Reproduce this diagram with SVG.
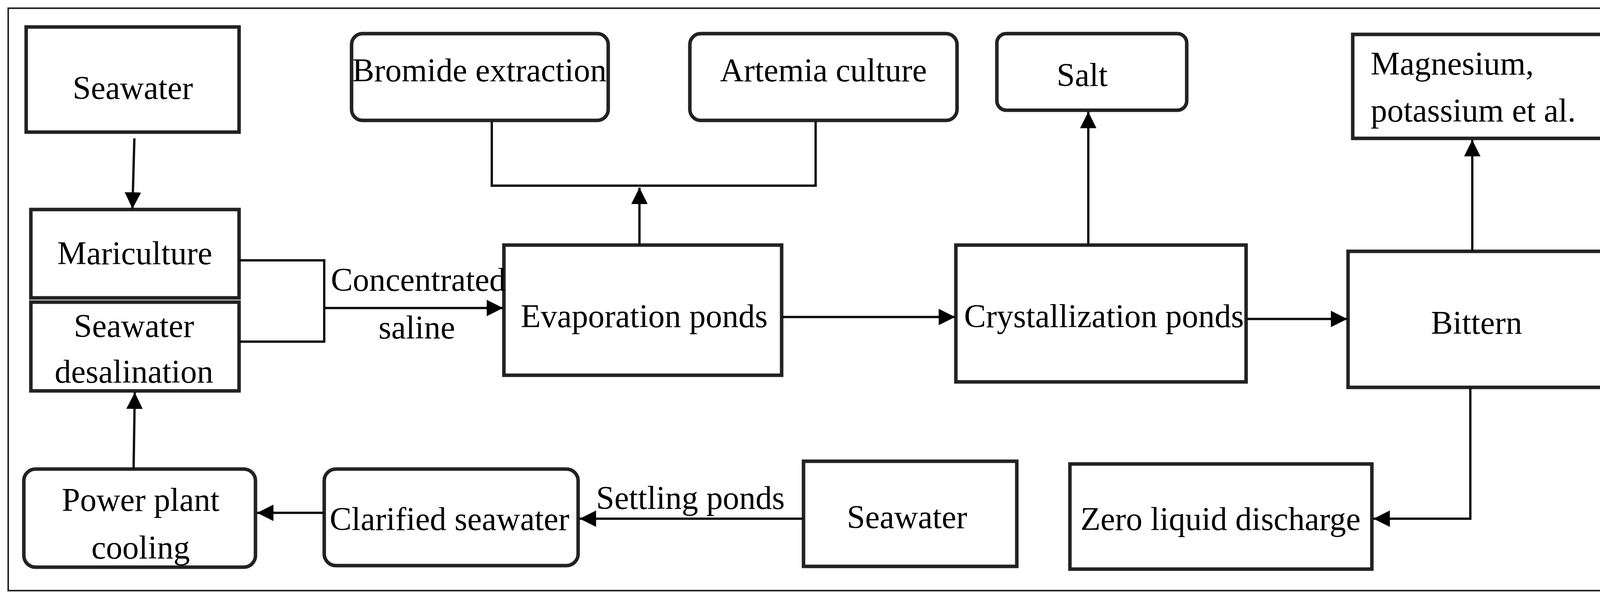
<svg xmlns="http://www.w3.org/2000/svg" width="4173" height="1535" viewBox="0 0 4173 1535">
<style>
.b{fill:#fff;stroke:#222;stroke-width:9}
.c{fill:none;stroke:#111;stroke-width:6}
text{font-family:"Liberation Serif","Times New Roman",serif;font-size:84px;fill:#000}
.m{text-anchor:middle}
</style>
<defs><marker id="a" viewBox="0 0 10 10" refX="10" refY="5" markerWidth="6" markerHeight="6" markerUnits="userSpaceOnUse" orient="auto"><path d="M0,0L10,5L0,10z" fill="#000"/></marker>
<marker id="ah" viewBox="0 0 10 10" refX="10" refY="5" markerWidth="7" markerHeight="7" orient="auto"><path d="M0,0L10,5L0,10z" fill="#000"/></marker></defs>
<rect width="4173" height="1535" fill="#fff"/>
<rect x="21" y="21" width="4130" height="1490" fill="none" stroke="#222" stroke-width="4"/>
<g id="seawater1"><rect class="b" x="67" y="69" width="545" height="269"/><text class="m" x="340" y="253">Seawater</text></g>
<g id="mariculture"><rect class="b" x="79" y="536" width="533" height="226"/><text class="m" x="345" y="676">Mariculture</text></g>
<g id="desalination"><rect class="b" x="79" y="773" width="533" height="227"/><text class="m" x="343" y="862">Seawater</text><text class="m" x="343" y="979">desalination</text></g>
<g id="bromide"><rect class="b" x="900" y="86" width="657" height="222" rx="28"/><text x="902" y="208">Bromide extraction</text></g>
<g id="artemia"><rect class="b" x="1766" y="86" width="684" height="222" rx="28"/><text class="m" x="2108" y="208">Artemia culture</text></g>
<g id="salt"><rect class="b" x="2552" y="86" width="486" height="196" rx="24"/><text x="2705" y="220">Salt</text></g>
<g id="magnesium"><rect class="b" x="3463" y="88" width="653" height="266"/><text x="3509" y="191">Magnesium,</text><text x="3509" y="311">potassium et al.</text></g>
<g id="evaporation"><rect class="b" x="1290" y="627" width="711" height="333"/><text x="1333" y="837">Evaporation ponds</text></g>
<g id="crystallization"><rect class="b" x="2447" y="627" width="743" height="350"/><text x="2468" y="837">Crystallization ponds</text></g>
<g id="bittern"><rect class="b" x="3451" y="643" width="665" height="348"/><text class="m" x="3780" y="854">Bittern</text></g>
<g id="powerplant"><rect class="b" x="61" y="1200" width="593" height="251" rx="30"/><text class="m" x="360" y="1307">Power plant</text><text class="m" x="360" y="1429">cooling</text></g>
<g id="clarified"><rect class="b" x="830" y="1200" width="650" height="247" rx="30"/><text x="844" y="1356">Clarified seawater</text></g>
<g id="seawater2"><rect class="b" x="2057" y="1180" width="546" height="269"/><text class="m" x="2322" y="1351">Seawater</text></g>
<g id="zld"><rect class="b" x="2739" y="1187" width="773" height="269"/><text x="2766" y="1356">Zero liquid discharge</text></g>
<g id="connectors">
<path class="c" d="M344,354L339,534" marker-end="url(#a)" style="marker-end:url(#ah)"/>
<path class="c" d="M612,666H830V874H612"/>
<path class="c" d="M830,788H1288" style="marker-end:url(#ah)"/>
<path class="c" d="M1259,311V475H2088V311"/>
<path class="c" d="M1637,627V480" style="marker-end:url(#ah)"/>
<path class="c" d="M2001,811H2445" style="marker-end:url(#ah)"/>
<path class="c" d="M2786,627V286" style="marker-end:url(#ah)"/>
<path class="c" d="M3190,816H3449" style="marker-end:url(#ah)"/>
<path class="c" d="M3769,643V358" style="marker-end:url(#ah)"/>
<path class="c" d="M3764,991V1327H3516" style="marker-end:url(#ah)"/>
<path class="c" d="M2057,1327H1484" style="marker-end:url(#ah)"/>
<path class="c" d="M830,1312H658" style="marker-end:url(#ah)"/>
<path class="c" d="M342,1200L345,1004" style="marker-end:url(#ah)"/>
</g>
<g id="labels"><text x="847" y="744">Concentrated</text><text class="m" x="1067" y="866">saline</text><text x="1526" y="1302">Settling ponds</text></g>
</svg>
